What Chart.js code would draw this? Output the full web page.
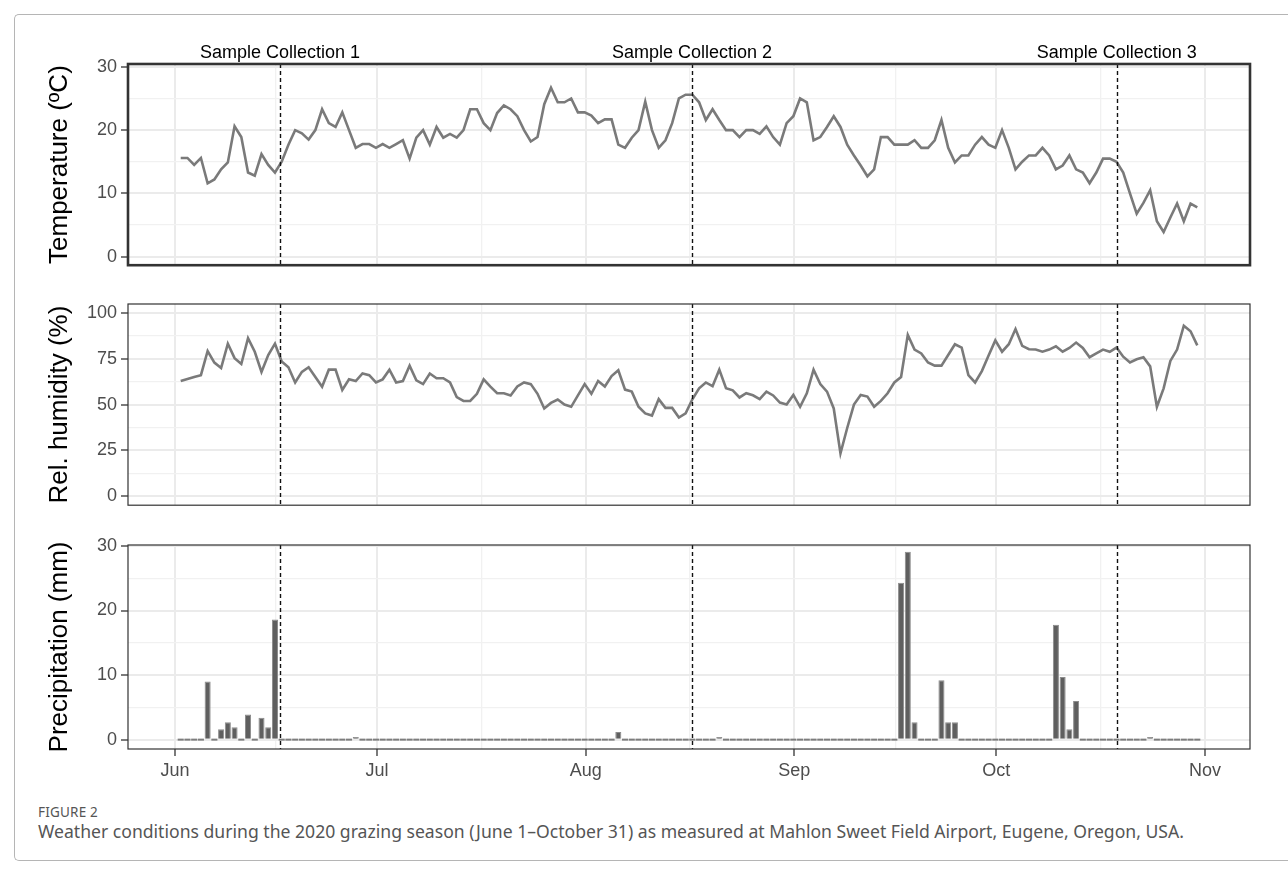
<!DOCTYPE html>
<html>
<head>
<meta charset="utf-8">
<script src="https://cdn.jsdelivr.net/npm/chart.js@4.4.1/dist/chart.umd.min.js"></script>
<style>
  html, body { margin: 0; padding: 0; background: #fff; }
  #page { position: relative; width: 1288px; height: 873px; overflow: hidden; background: #fff; }
  #frame { position: absolute; left: 14px; top: 14px; width: 1300px; height: 845px;
           border-left: 1px solid #b5b5b5; border-top: 1px solid #b5b5b5; border-bottom: 1px solid #b5b5b5;
           border-radius: 5px 0 0 5px; }
  canvas { position: absolute; left: 0; }
  #figLabel { position: absolute; left: 38px; top: 803px; font: 13.5px "Noto Sans", "Open Sans", sans-serif;
              color: #555; letter-spacing: 0.2px; }
  #caption { position: absolute; left: 38px; top: 819px; font: 17.6px "Noto Sans", "Open Sans", sans-serif;
             color: #555; white-space: nowrap; }
</style>
</head>
<body>
<div id="page">
  <div id="frame"></div>
  <canvas id="tempChart" width="1288" height="240" style="top:40px"></canvas>
  <canvas id="humChart" width="1288" height="235" style="top:285px"></canvas>
  <canvas id="rainChart" width="1288" height="265" style="top:525px"></canvas>
  <div id="figLabel">FIGURE 2</div>
  <div id="caption">Weather conditions during the 2020 grazing season (June 1–October 31) as measured at Mahlon Sweet Field Airport, Eugene, Oregon, USA.</div>
</div>
<script>
// daily values from Jun 1 onwards
const tempC = [
  15.6, 15.6, 14.5, 15.6, 11.6, 12.2, 13.8, 14.9, 20.6, 18.9,
  13.3, 12.8, 16.2, 14.5, 13.3, 15.0, 17.7, 20.0, 19.5, 18.5,
  20.0, 23.3, 21.1, 20.5, 22.8, 20.0, 17.2, 17.8, 17.8, 17.2,
  17.8, 17.2, 17.8, 18.4, 15.5, 18.8, 20.0, 17.7, 20.5, 18.8,
  19.4, 18.8, 20.0, 23.3, 23.3, 21.1, 20.0, 22.7, 23.9, 23.3,
  22.2, 20.0, 18.2, 18.9, 24.1, 26.7, 24.4, 24.4, 25.0, 22.8,
  22.8, 22.3, 21.1, 21.7, 21.7, 17.7, 17.2, 18.8, 20.0, 24.5,
  20.0, 17.2, 18.4, 21.1, 25.0, 25.6, 25.6, 24.4, 21.6, 23.3,
  21.6, 20.0, 20.0, 18.9, 20.0, 20.0, 19.4, 20.6, 18.9, 17.7,
  21.1, 22.2, 25.0, 24.4, 18.4, 18.9, 20.5, 22.2, 20.5, 17.7,
  16.0, 14.4, 12.7, 13.8, 18.9, 18.9, 17.7, 17.7, 17.7, 18.4,
  17.2, 17.2, 18.4, 21.6, 17.2, 14.9, 16.0, 16.0, 17.7, 18.9,
  17.7, 17.2, 20.0, 17.2, 13.8, 15.0, 16.0, 16.0, 17.2, 16.0,
  13.8, 14.4, 16.0, 13.8, 13.3, 11.6, 13.3, 15.5, 15.5, 15.0,
  13.3, 10.0, 6.8, 8.5, 10.5, 5.6, 3.9, 6.2, 8.4, 5.6,
  8.4, 7.8
];
const relHumidity = [
  62.9, 64.0, 65.1, 66.1, 79.3, 73.0, 70.0, 83.3, 75.4, 72.2,
  86.3, 78.9, 67.9, 77.1, 83.3, 73.6, 70.4, 62.1, 67.9, 70.4,
  65.1, 59.8, 69.1, 69.1, 58.0, 63.8, 62.9, 67.0, 66.1, 62.1,
  63.8, 69.1, 62.1, 62.9, 71.3, 63.3, 61.2, 67.0, 64.4, 64.4,
  62.1, 54.1, 52.0, 52.0, 55.9, 63.8, 59.8, 56.2, 56.2, 55.0,
  59.9, 62.1, 61.2, 55.9, 47.9, 50.9, 52.8, 50.0, 48.8, 55.0,
  61.2, 55.9, 62.9, 59.9, 65.6, 68.8, 58.2, 57.1, 48.8, 45.2,
  44.0, 53.0, 48.2, 48.2, 42.9, 45.2, 52.9, 58.9, 62.1, 60.1,
  69.1, 59.0, 57.8, 53.9, 56.2, 55.1, 53.0, 57.1, 55.0, 51.1,
  50.0, 55.3, 48.8, 56.2, 69.1, 61.2, 57.1, 47.9, 23.4, 37.2,
  50.0, 55.3, 54.4, 48.8, 52.0, 56.2, 62.1, 65.1, 88.1, 80.1,
  78.0, 73.0, 71.3, 71.3, 77.1, 83.0, 81.2, 66.1, 62.1, 68.3,
  76.8, 85.1, 78.9, 83.0, 91.3, 82.1, 80.3, 80.1, 78.9, 80.1,
  81.9, 78.9, 81.0, 83.9, 81.0, 75.9, 78.0, 80.1, 78.9, 81.2,
  76.2, 73.0, 74.8, 75.9, 70.9, 48.8, 58.9, 73.9, 80.1, 93.1,
  90.1, 82.4
];
const precipMm = [
  0, 0, 0, 0, 9.0, 0, 1.6, 2.7, 1.9, 0,
  3.9, 0, 3.4, 1.9, 18.6, 0, 0, 0, 0, 0,
  0, 0, 0, 0, 0, 0, 0.4, 0, 0, 0,
  0, 0, 0, 0, 0, 0, 0, 0, 0, 0,
  0, 0, 0, 0, 0, 0, 0, 0, 0, 0,
  0, 0, 0, 0, 0, 0, 0, 0, 0, 0,
  0, 0, 0, 0, 0, 1.2, 0, 0, 0, 0,
  0, 0, 0, 0, 0, 0, 0, 0, 0, 0,
  0.4, 0, 0, 0, 0, 0, 0, 0, 0, 0,
  0, 0, 0, 0, 0, 0, 0, 0, 0, 0,
  0, 0, 0, 0, 0, 0, 0, 24.3, 29.1, 2.7,
  0, 0, 0, 9.2, 2.7, 2.7, 0, 0, 0, 0,
  0, 0, 0, 0, 0, 0, 0, 0, 0, 0,
  17.8, 9.7, 1.6, 6.0, 0, 0, 0, 0, 0, 0,
  0, 0, 0, 0, 0.4, 0, 0, 0, 0, 0,
  0, 0
];

// x axis: days since Jun 1
const monthLabels = ['Jun', 'Jul', 'Aug', 'Sep', 'Oct', 'Nov'];
const monthStartDays = [0, 30, 61, 92, 122, 153];
const sampleLabels = ['Sample Collection 1', 'Sample Collection 2', 'Sample Collection 3'];
const sampleDays = [15.6, 76.8, 139.9];

// y axis tick labels
const tempTicks = [0, 10, 20, 30];
const humidityTicks = [0, 25, 50, 75, 100];
const precipTicks = [0, 10, 20, 30];

const DAY_SHIFT = 0.85;
const X_MIN = -6.98, X_MAX = 159.68;
const FONT = '"Liberation Sans", Arial, Helvetica, sans-serif';

// ggplot style minor breaks halfway between the major ones
function withMinors(major) {
  const out = [];
  major.forEach((v, i) => {
    out.push(v);
    if (i < major.length - 1) out.push((v + major[i + 1]) / 2);
  });
  return out;
}

function toPoints(values) {
  return values.map((v, i) => ({ x: i + DAY_SHIFT, y: v }));
}

const panelDecor = {
  id: 'panelDecor',
  afterDatasetsDraw(chart) {
    const { ctx, chartArea: a, scales: { x } } = chart;
    ctx.save();
    ctx.beginPath();
    ctx.rect(a.left, a.top, a.width, a.height);
    ctx.clip();
    ctx.setLineDash([4, 3]);
    ctx.strokeStyle = '#111';
    ctx.lineWidth = 1.4;
    sampleDays.forEach(d => {
      const px = Math.round(x.getPixelForValue(d)) + 0.5;
      ctx.beginPath();
      ctx.moveTo(px, a.top);
      ctx.lineTo(px, a.bottom);
      ctx.stroke();
    });
    ctx.restore();
  },
  afterDraw(chart, args, opts) {
    const { ctx, chartArea: a, scales: { x } } = chart;
    ctx.save();
    ctx.strokeStyle = '#333';
    ctx.lineWidth = opts.frameWidth || 1.2;
    ctx.strokeRect(a.left, a.top, a.width, a.height);
    if (opts.sampleText) {
      ctx.fillStyle = '#000';
      ctx.font = '18px ' + FONT;
      ctx.textAlign = 'center';
      ctx.textBaseline = 'alphabetic';
      sampleDays.forEach((d, i) => {
        ctx.fillText(sampleLabels[i], x.getPixelForValue(d), a.top - 6);
      });
    }
    ctx.restore();
  }
};

function xAxis(showLabels) {
  const isMonth = c => c.tick && monthStartDays.includes(c.tick.value);
  return {
    type: 'linear',
    min: X_MIN,
    max: X_MAX,
    offset: false,
    afterBuildTicks: s => { s.ticks = withMinors(monthStartDays).map(v => ({ value: v })); },
    afterFit: s => { s.height = showLabels ? 41 : 0; },
    border: { display: false },
    grid: {
      offset: false,
      color: c => isMonth(c) ? '#EBEBEB' : '#F1F1F1',
      lineWidth: c => isMonth(c) ? 2 : 1.3,
      drawTicks: showLabels,
      tickLength: 7,
      tickWidth: 1.3,
      tickColor: c => isMonth(c) ? '#333' : 'rgba(0,0,0,0)'
    },
    ticks: {
      display: showLabels,
      autoSkip: false,
      maxRotation: 0,
      padding: 4,
      color: '#4D4D4D',
      font: { family: FONT, size: 18 },
      callback: v => {
        const k = monthStartDays.indexOf(v);
        return k >= 0 ? monthLabels[k] : '';
      }
    }
  };
}

function yAxis(major, min, max, title) {
  const isMajor = c => c.tick && major.includes(c.tick.value);
  return {
    min: min,
    max: max,
    afterBuildTicks: s => { s.ticks = withMinors(major).map(v => ({ value: v })); },
    afterFit: s => { s.width = 128; },
    border: { display: false },
    grid: {
      offset: false,
      color: c => isMajor(c) ? '#EBEBEB' : '#F1F1F1',
      lineWidth: c => isMajor(c) ? 2 : 1.3,
      tickLength: 7,
      tickWidth: 1.3,
      tickColor: c => isMajor(c) ? '#333' : 'rgba(0,0,0,0)'
    },
    ticks: {
      autoSkip: false,
      padding: 4,
      color: '#4D4D4D',
      font: { family: FONT, size: 18 },
      callback: v => major.includes(v) ? String(v) : ''
    },
    title: {
      display: true,
      text: title,
      color: '#000',
      font: { family: FONT, size: 26 },
      padding: { top: 44, bottom: 0 }
    }
  };
}

function baseOptions(pad, showX, yScale, frameWidth, sampleText) {
  return {
    responsive: false,
    devicePixelRatio: 1,
    animation: false,
    events: [],
    layout: { padding: pad },
    plugins: {
      legend: { display: false },
      tooltip: { enabled: false },
      panelDecor: { frameWidth: frameWidth, sampleText: sampleText }
    },
    scales: { x: xAxis(showX), y: yScale }
  };
}

new Chart(document.getElementById('tempChart'), {
  type: 'line',
  data: {
    datasets: [{
      data: toPoints(tempC),
      borderColor: '#7a7a7a',
      borderWidth: 2.6,
      pointRadius: 0,
      tension: 0,
      fill: false
    }]
  },
  options: baseOptions({ top: 24, bottom: 11, left: 0, right: 38 }, false,
    yAxis(tempTicks, -1.35, 30.45, 'Temperature (ºC)'), 2.6, true),
  plugins: [panelDecor]
});

new Chart(document.getElementById('humChart'), {
  type: 'line',
  data: {
    datasets: [{
      data: toPoints(relHumidity),
      borderColor: '#7a7a7a',
      borderWidth: 2.6,
      pointRadius: 0,
      tension: 0,
      fill: false
    }]
  },
  options: baseOptions({ top: 19, bottom: 11, left: 0, right: 38 }, false,
    yAxis(humidityTicks, -5, 105, 'Rel. humidity (%)'), 1.2, false),
  plugins: [panelDecor]
});

new Chart(document.getElementById('rainChart'), {
  type: 'bar',
  data: {
    datasets: [{
      data: toPoints(precipMm),
      backgroundColor: c => (c.raw && c.raw.y > 0) ? '#5f5f5f' : '#7d7d7d',
      borderColor: '#8c8c8c',
      borderWidth: c => (c.raw && c.raw.y > 0) ? 1 : 0,
      minBarLength: 2,
      barPercentage: 0.9,
      categoryPercentage: 1
    }]
  },
  options: baseOptions({ top: 20, bottom: 0, left: 0, right: 38 }, true,
    yAxis(precipTicks, -1.45, 30.15, 'Precipitation (mm)'), 1.2, false),
  plugins: [panelDecor]
});
</script>
</body>
</html>
